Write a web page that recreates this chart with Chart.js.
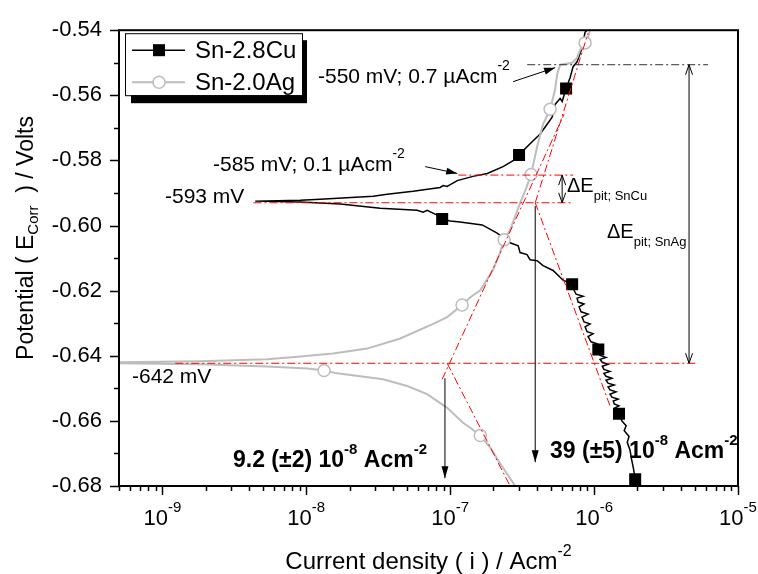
<!DOCTYPE html>
<html>
<head>
<meta charset="utf-8">
<script src="https://cdn.jsdelivr.net/npm/chart.js@4.4.1/dist/chart.umd.min.js"></script>
<style>
  html, body { margin: 0; padding: 0; background: #fff; }
  #wrap { width: 758px; height: 574px; }
</style>
</head>
<body>
<div id="wrap"><canvas id="tafel" width="758" height="574"></canvas></div>
<script>
// Sn-2.8Cu polarisation curve, cathodic end (bottom) to anodic end (top)
const cuCurrent = [
  1.93e-6, 1.93e-6, 1.87e-6, 1.81e-6, 1.78e-6, 1.70e-6, 1.75e-6, 1.62e-6, 1.67e-6, 1.56e-6, 1.49e-6,
  1.40e-6, 1.49e-6, 1.38e-6, 1.36e-6, 1.47e-6, 1.33e-6, 1.29e-6, 1.42e-6, 1.29e-6, 1.25e-6, 1.38e-6,
  1.25e-6, 1.21e-6, 1.33e-6, 1.21e-6, 1.17e-6, 1.29e-6, 1.17e-6, 1.14e-6, 1.25e-6, 1.14e-6, 1.10e-6,
  1.21e-6, 1.10e-6, 1.07e-6,
  1.00e-6, 1.05e-6, 9.53e-7, 9.08e-7, 9.84e-7, 8.94e-7, 8.66e-7, 9.38e-7, 8.52e-7, 8.25e-7, 9.08e-7,
  8.12e-7, 7.87e-7, 8.52e-7, 7.74e-7, 7.62e-7, 8.39e-7, 7.50e-7, 7.26e-7, 7.04e-7,
  6.09e-7, 5.19e-7, 4.42e-7, 4.02e-7, 3.59e-7, 3.42e-7, 3.06e-7, 2.97e-7, 2.61e-7, 2.12e-7, 1.67e-7,
  1.17e-7, 1.00e-7, 8.80e-8, 8.12e-8, 6.92e-8, 6.49e-8, 5.90e-8, 3.27e-8, 1.72e-8, 9.08e-9, 4.42e-9,
  9.08e-9, 1.25e-8, 2.92e-8, 3.65e-8, 5.53e-8, 8.52e-8, 8.94e-8, 9.53e-8, 1.12e-7, 1.44e-7, 1.81e-7,
  2.33e-7, 2.74e-7, 3.01e-7, 3.59e-7, 4.22e-7, 4.72e-7, 5.11e-7, 5.36e-7, 5.81e-7, 6.00e-7, 6.39e-7,
  6.81e-7, 7.15e-7, 7.62e-7, 8.25e-7, 8.39e-7, 8.66e-7, 8.94e-7
];
const cuPotential = [
  -0.6800, -0.6779, -0.6742, -0.6712, -0.6691, -0.6666, -0.6648, -0.6630, -0.6615, -0.6600, -0.6578,
  -0.6560, -0.6554, -0.6548, -0.6539, -0.6533, -0.6527, -0.6518, -0.6511, -0.6505, -0.6496, -0.6490,
  -0.6484, -0.6475, -0.6469, -0.6463, -0.6454, -0.6448, -0.6442, -0.6432, -0.6426, -0.6420, -0.6411,
  -0.6405, -0.6399, -0.6381,
  -0.6372, -0.6363, -0.6357, -0.6341, -0.6332, -0.6326, -0.6311, -0.6302, -0.6296, -0.6281, -0.6272,
  -0.6265, -0.6250, -0.6241, -0.6235, -0.6223, -0.6217, -0.6211, -0.6199, -0.6180,
  -0.6168, -0.6138, -0.6123, -0.6108, -0.6105, -0.6089, -0.6083, -0.6062, -0.6053, -0.6023, -0.5998,
  -0.5989, -0.5986, -0.5980, -0.5968, -0.5953, -0.5959, -0.5953, -0.5947, -0.5934, -0.5928, -0.5925,
  -0.5922, -0.5919, -0.5910, -0.5904, -0.5895, -0.5883, -0.5877, -0.5880, -0.5862, -0.5849, -0.5840,
  -0.5819, -0.5801, -0.5783, -0.5749, -0.5719, -0.5689, -0.5667, -0.5628, -0.5610, -0.5619, -0.5579,
  -0.5546, -0.5512, -0.5497, -0.5455, -0.5436, -0.5406, -0.5400
];

// Sn-2.0Ag polarisation curve
const agCurrent = [
  2.83e-7, 2.22e-7, 1.90e-7, 1.62e-7, 1.38e-7, 1.23e-7, 9.53e-8, 6.92e-8, 5.03e-8, 3.42e-8, 2.37e-8,
  1.64e-8, 1.33e-8, 1.02e-8, 5.36e-9, 1.84e-9, 5.0e-10,
  5.0e-10, 1.84e-9, 5.36e-9, 9.08e-9, 1.54e-8, 2.65e-8, 4.50e-8, 7.62e-8, 9.53e-8, 1.12e-7, 1.21e-7,
  1.38e-7, 1.62e-7, 1.99e-7, 2.22e-7, 2.37e-7, 2.61e-7, 3.06e-7, 3.37e-7, 3.65e-7, 4.02e-7, 4.42e-7,
  4.95e-7, 5.36e-7, 5.53e-7, 5.81e-7, 7.04e-7, 7.62e-7, 7.99e-7, 8.66e-7, 9.08e-7, 9.38e-7
];
const agPotential = [
  -0.6800, -0.6730, -0.6682, -0.6645, -0.6621, -0.6606, -0.6560, -0.6518, -0.6493, -0.6472, -0.6463,
  -0.6454, -0.6445, -0.6439, -0.6433, -0.6426, -0.6423,
  -0.6420, -0.6417, -0.6411, -0.6402, -0.6393, -0.6378, -0.6347, -0.6302, -0.6281, -0.6256, -0.6244,
  -0.6220, -0.6199, -0.6135, -0.6083, -0.6044, -0.6013, -0.5931, -0.5886, -0.5843, -0.5758, -0.5689,
  -0.5643, -0.5582, -0.5537, -0.5506, -0.5500, -0.5485, -0.5461, -0.5439, -0.5421, -0.5400
];

// symbols plotted along each curve
const cuMarkCurrent = [1.93e-6, 1.49e-6, 1.07e-6, 7.04e-7, 8.80e-8, 3.01e-7, 6.39e-7];
const cuMarkPotential = [-0.6779, -0.6578, -0.6381, -0.6180, -0.5980, -0.5783, -0.5579];
const agMarkCurrent = [1.62e-7, 1.33e-8, 1.21e-7, 2.37e-7, 3.65e-7, 4.95e-7, 8.66e-7];
const agMarkPotential = [-0.6645, -0.6445, -0.6244, -0.6044, -0.5843, -0.5643, -0.5439];

const yTicks = [-0.68, -0.66, -0.64, -0.62, -0.60, -0.58, -0.56, -0.54];
const xDecades = [-9, -8, -7, -6, -5];

// values marked by the Tafel construction
const ecorrCu = -0.593, ecorrAg = -0.6423;
const epitCu = -0.5845, epitAg = -0.5506;
const icorrCu = 3.9e-7, icorrAg = 9.2e-8;

const FONT = '"Liberation Sans", Arial, sans-serif';
const GRAY = '#bdbdbd';
const RED = '#ff0000';

function font(size, bold) {
  return (bold ? 'bold ' : '') + size + 'px ' + FONT;
}

// draws [text, size, dy, bold] pieces one after another from a baseline
function richText(ctx, parts, x, y, align) {
  let total = 0;
  parts.forEach(p => { ctx.font = font(p[1], p[3]); total += ctx.measureText(p[0]).width; });
  let cx = align === 'center' ? x - total / 2 : x;
  ctx.textAlign = 'left';
  ctx.textBaseline = 'alphabetic';
  parts.forEach(p => {
    ctx.font = font(p[1], p[3]);
    ctx.fillText(p[0], cx, y + (p[2] || 0));
    cx += ctx.measureText(p[0]).width;
  });
}

function arrowHead(ctx, x1, y1, x2, y2, len, half, filled) {
  const a = Math.atan2(y2 - y1, x2 - x1);
  const bx = x2 - len * Math.cos(a), by = y2 - len * Math.sin(a);
  const ox = -Math.sin(a) * half, oy = Math.cos(a) * half;
  ctx.beginPath();
  ctx.moveTo(bx + ox, by + oy);
  ctx.lineTo(x2, y2);
  ctx.lineTo(bx - ox, by - oy);
  if (filled) { ctx.closePath(); ctx.fill(); } else { ctx.stroke(); }
}

const decorations = {
  id: 'decorations',
  afterDraw(chart) {
    const ctx = chart.ctx;
    const area = chart.chartArea;
    const xs = chart.scales.x, ys = chart.scales.y;
    const px = v => xs.getPixelForValue(v);
    const py = v => ys.getPixelForValue(v);

    const seg = (x1, e1, x2, e2, color, width, dash) => {
      ctx.save();
      ctx.strokeStyle = color;
      ctx.lineWidth = width;
      ctx.setLineDash(dash || []);
      ctx.beginPath();
      ctx.moveTo(px(x1), py(e1));
      ctx.lineTo(px(x2), py(e2));
      ctx.stroke();
      ctx.restore();
    };
    const dashDot = [8, 3, 2, 3];

    ctx.save();
    // Tafel construction (red dash-dot)
    seg(4.3e-9, ecorrCu, 7.15e-7, ecorrCu, RED, 1, dashDot);
    seg(1.14e-7, epitCu, 7.15e-7, epitCu, RED, 1, dashDot);
    seg(1.23e-9, ecorrAg, 5.27e-6, ecorrAg, RED, 1, dashDot);
    seg(8.8e-8, -0.6472, 6.19e-7, -0.5658, RED, 1, dashDot);
    seg(9.53e-8, ecorrAg, 2.61e-7, -0.68, RED, 1, dashDot);
    seg(icorrCu, ecorrCu, 9.08e-7, -0.5409, RED, 1, dashDot);
    seg(icorrCu, ecorrCu, 1.29e-6, -0.6554, RED, 1, dashDot);
    // pitting potential of Sn-2.0Ag
    seg(3.43e-7, epitAg, 6.19e-6, epitAg, '#333', 1, dashDot);

    // corrosion current arrows
    ctx.strokeStyle = '#000';
    ctx.fillStyle = '#000';
    ctx.lineWidth = 1;
    [[icorrCu, -0.594, -0.6727], [icorrAg, -0.6469, -0.6776]].forEach(a => {
      const x = px(a[0]);
      ctx.beginPath();
      ctx.moveTo(x, py(a[1]));
      ctx.lineTo(x, py(a[2]));
      ctx.stroke();
      arrowHead(ctx, x, py(a[1]), x, py(a[2]), 12, 3.5, true);
    });

    // delta E double arrows
    [[6.0e-7, epitCu, ecorrCu], [4.57e-6, epitAg, ecorrAg]].forEach(a => {
      const x = px(a[0]), y1 = py(a[1]), y2 = py(a[2]);
      ctx.beginPath();
      ctx.moveTo(x, y1);
      ctx.lineTo(x, y2);
      ctx.stroke();
      arrowHead(ctx, x, y2, x, y1, 10, 3.5, false);
      arrowHead(ctx, x, y1, x, y2, 10, 3.5, false);
    });

    // pointers from the labels
    [[2.74e-7, -0.5558, 5.36e-7, -0.5515], [6.7e-8, -0.5819, 1.12e-7, -0.5840]].forEach(a => {
      const x1 = px(a[0]), y1 = py(a[1]), x2 = px(a[2]), y2 = py(a[3]);
      ctx.beginPath();
      ctx.moveTo(x1, y1);
      ctx.lineTo(x2, y2);
      ctx.stroke();
      arrowHead(ctx, x1, y1, x2, y2, 11, 3.5, true);
    });

    // annotation text
    ctx.fillStyle = '#000';
    richText(ctx, [['-550 mV; 0.7 \u00b5Acm', 21], ['-2', 14, -13]], 318, 83);
    richText(ctx, [['-585 mV; 0.1 \u00b5Acm', 21], ['-2', 14, -13]], 213, 171);
    richText(ctx, [['-593 mV', 21]], 165, 203);
    richText(ctx, [['-642 mV', 21]], 132, 383);
    richText(ctx, [['9.2 (\u00b12) 10', 23, 0, true], ['-8', 15, -13, true], [' Acm', 23, 0, true], ['-2', 15, -13, true]], 233, 467);
    richText(ctx, [['39 (\u00b15) 10', 23, 0, true], ['-8', 15, -13, true], [' Acm', 23, 0, true], ['-2', 15, -13, true]], 550, 458);
    richText(ctx, [['\u0394E', 20], ['pit; SnCu', 13, 8]], 567, 192);
    richText(ctx, [['\u0394E', 20], ['pit; SnAg', 13, 8]], 607, 238);

    // frame
    ctx.strokeStyle = '#000';
    ctx.lineWidth = 2;
    ctx.strokeRect(area.left, area.top, area.right - area.left, area.bottom - area.top);

    // y ticks, major every 0.02 and minor between
    ctx.lineWidth = 1.5;
    ctx.beginPath();
    for (let k = 0; k <= 14; k++) {
      const y = Math.round(py(-0.68 + k * 0.01)) + 0.5;
      const len = k % 2 === 0 ? 9 : 5;
      ctx.moveTo(area.left, y);
      ctx.lineTo(area.left - len, y);
    }
    // x ticks, decades and their 2..9 multiples
    for (let d = -10; d <= -5; d++) {
      for (let m = 1; m <= 9; m++) {
        const v = m * Math.pow(10, d);
        if (v < 4.99e-10 || v > 1.001e-5) continue;
        const x = Math.round(px(v)) + 0.5;
        ctx.moveTo(x, area.bottom);
        ctx.lineTo(x, area.bottom + (m === 1 ? 9 : 5));
      }
    }
    ctx.stroke();

    // x tick labels as powers of ten
    xDecades.forEach(d => {
      richText(ctx, [['10', 22], [String(d), 15, -13]], px(Math.pow(10, d)), 525, 'center');
    });

    // axis titles
    richText(ctx, [['Current density ( i ) / Acm', 24], ['-2', 16, -13]], (area.left + area.right) / 2, 569, 'center');
    ctx.save();
    ctx.translate(33, 238);
    ctx.rotate(-Math.PI / 2);
    richText(ctx, [['Potential ( E', 23], ['Corr', 15, 5], ['  ) / Volts', 23]], 0, 0, 'center');
    ctx.restore();

    // legend with drop shadow
    const lx = area.left + 6, ly = area.top + 3;
    ctx.fillStyle = '#000';
    ctx.fillRect(lx + 6, ly + 7, 176, 63);
    ctx.fillStyle = '#fff';
    ctx.fillRect(lx, ly, 177, 62);
    ctx.lineWidth = 1;
    ctx.strokeStyle = '#000';
    ctx.strokeRect(lx + 0.5, ly + 0.5, 177, 62);
    const rows = [
      { label: 'Sn-2.8Cu', color: '#000', y: ly + 17, square: true },
      { label: 'Sn-2.0Ag', color: GRAY, y: ly + 49, square: false }
    ];
    rows.forEach(r => {
      ctx.strokeStyle = r.color;
      ctx.lineWidth = r.square ? 1.5 : 2;
      ctx.beginPath();
      ctx.moveTo(lx + 7, r.y);
      ctx.lineTo(lx + 60, r.y);
      ctx.stroke();
      if (r.square) {
        ctx.fillStyle = '#000';
        ctx.fillRect(lx + 28, r.y - 6, 12, 12);
      } else {
        ctx.fillStyle = '#fff';
        ctx.lineWidth = 1.5;
        ctx.beginPath();
        ctx.arc(lx + 34, r.y, 6, 0, Math.PI * 2);
        ctx.fill();
        ctx.stroke();
      }
      ctx.fillStyle = '#000';
      ctx.font = font(24);
      ctx.textAlign = 'left';
      ctx.textBaseline = 'middle';
      ctx.fillText(r.label, lx + 70, r.y + 1);
    });
    ctx.restore();
  }
};

const toPoints = (xs, ys) => xs.map((v, k) => ({ x: v, y: ys[k] }));

new Chart(document.getElementById('tafel'), {
  type: 'scatter',
  data: {
    datasets: [
      {
        label: 'Sn-2.0Ag',
        data: toPoints(agMarkCurrent, agMarkPotential),
        showLine: false,
        pointStyle: 'circle',
        pointRadius: 6,
        pointBackgroundColor: '#fff',
        pointBorderColor: GRAY,
        pointBorderWidth: 1.5
      },
      {
        label: 'Sn-2.0Ag curve',
        data: toPoints(agCurrent, agPotential),
        showLine: true,
        borderColor: GRAY,
        borderWidth: 2,
        pointRadius: 0
      },
      {
        label: 'Sn-2.8Cu',
        data: toPoints(cuMarkCurrent, cuMarkPotential),
        showLine: false,
        pointStyle: 'rect',
        pointRadius: 8.5,
        pointBackgroundColor: '#000',
        pointBorderColor: '#000',
        pointBorderWidth: 0
      },
      {
        label: 'Sn-2.8Cu curve',
        data: toPoints(cuCurrent, cuPotential),
        showLine: true,
        borderColor: '#000',
        borderWidth: 1.5,
        pointRadius: 0
      }
    ]
  },
  options: {
    responsive: false,
    animation: false,
    devicePixelRatio: 1,
    layout: { padding: { left: 0, top: 25, right: 20, bottom: 0 } },
    plugins: {
      legend: { display: false },
      tooltip: { enabled: false }
    },
    scales: {
      x: {
        type: 'logarithmic',
        min: 5e-10,
        max: 1e-5,
        afterFit: s => { s.height = 88; },
        ticks: { display: false },
        grid: { display: false, drawTicks: false },
        border: { display: false }
      },
      y: {
        type: 'linear',
        min: -0.68,
        max: -0.54,
        afterFit: s => { s.width = 119; },
        afterBuildTicks: s => { s.ticks = yTicks.map(v => ({ value: v })); },
        ticks: {
          color: '#000',
          padding: 17,
          font: { family: FONT, size: 22 },
          callback: v => v.toFixed(2)
        },
        grid: { display: false, drawTicks: false },
        border: { display: false }
      }
    }
  },
  plugins: [decorations]
});
</script>
</body>
</html>
